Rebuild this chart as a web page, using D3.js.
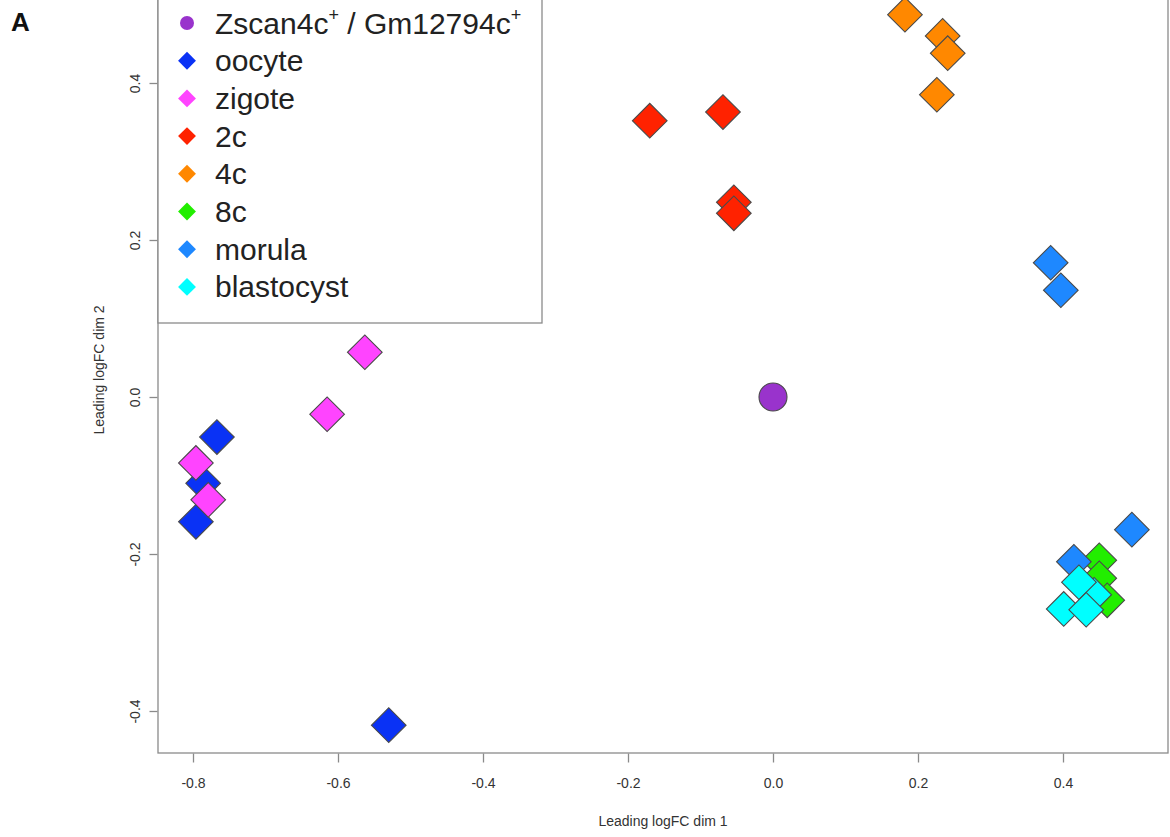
<!DOCTYPE html>
<html>
<head>
<meta charset="utf-8">
<script src="https://cdn.jsdelivr.net/npm/d3@7"></script>
<style>
  body { margin: 0; background: #fff; }
  text { font-family: "Liberation Sans", Arial, sans-serif; }
</style>
</head>
<body>
<div id="chart"></div>
<script>
// groups, in legend / drawing order
var groups = ["oocyte", "zigote", "2c", "4c", "8c", "morula", "blastocyst"];
var groupColors = ["#0a32f5", "#ff44ff", "#ff2200", "#ff8800", "#22ee00", "#1e88ff", "#00ffff"];

// leading logFC dim 1 / dim 2 per group
var oocyteX = [-0.767, -0.786, -0.796, -0.530];
var oocyteY = [-0.051, -0.110, -0.159, -0.418];
var zigoteX = [-0.796, -0.779, -0.615, -0.563];
var zigoteY = [-0.084, -0.131, -0.022, 0.057];
var c2X = [-0.170, -0.069, -0.054, -0.054];
var c2Y = [0.352, 0.363, 0.248, 0.234];
var c4X = [0.182, 0.234, 0.241, 0.226];
var c4Y = [0.487, 0.460, 0.438, 0.385];
var c8X = [0.450, 0.450, 0.461];
var c8Y = [-0.208, -0.231, -0.259];
var morulaX = [0.383, 0.397, 0.495, 0.415];
var morulaY = [0.171, 0.136, -0.169, -0.210];
var blastX = [0.443, 0.422, 0.401, 0.432];
var blastY = [-0.252, -0.236, -0.270, -0.271];

var zscanX = [0.0];
var zscanY = [0.0];

var xTicks = [-0.8, -0.6, -0.4, -0.2, 0.0, 0.2, 0.4];
var yTicks = [-0.4, -0.2, 0.0, 0.2, 0.4];

var groupX = [oocyteX, zigoteX, c2X, c4X, c8X, morulaX, blastX];
var groupY = [oocyteY, zigoteY, c2Y, c4Y, c8Y, morulaY, blastY];

var points = [];
groups.forEach(function(g, i) {
    groupX[i].forEach(function(v, j) {
        points.push({group: g, color: groupColors[i], x: v, y: groupY[i][j]});
    });
});

var width = 1170, height = 837;
var frame = {left: 158, right: 1168, top: -13, bottom: 753};
var fmt = function(d) { return d3.format(".1f")(d).replace("−", "-"); };
var axisFont = "'Liberation Sans Narrow', 'Liberation Sans', Arial, sans-serif";

var svg = d3.select("#chart")
    .append("svg")
    .attr("width", width)
    .attr("height", height);

var x = d3.scaleLinear().domain([-0.8, 0.4]).range([193, 1063]);
var y = d3.scaleLinear().domain([-0.4, 0.4]).range([711, 83]);

// plot frame
svg.append("rect")
    .attr("x", frame.left)
    .attr("y", frame.top)
    .attr("width", frame.right - frame.left)
    .attr("height", frame.bottom - frame.top)
    .attr("fill", "none")
    .attr("stroke", "#8a8a8a")
    .attr("stroke-width", 1.3);

// axes
var xAxis = svg.append("g")
    .attr("transform", "translate(0," + (frame.bottom + 0.5) + ")")
    .call(d3.axisBottom(x).tickValues(xTicks).tickFormat(fmt).tickSize(9).tickPadding(16));
var yAxis = svg.append("g")
    .attr("transform", "translate(" + (frame.left - 0.5) + ",0)")
    .call(d3.axisLeft(y).tickValues(yTicks).tickFormat(fmt).tickSize(8));

[xAxis, yAxis].forEach(function(a) {
    a.select(".domain").remove();
    a.selectAll(".tick line").attr("stroke", "#8a8a8a").attr("stroke-width", 1.3);
    a.selectAll(".tick text")
        .attr("fill", "#333")
        .style("font-size", "14px")
        .style("font-family", axisFont);
});
// R-style rotated y tick labels
yAxis.selectAll(".tick text")
    .attr("x", null)
    .attr("dy", null)
    .attr("transform", "translate(-22,0) rotate(-90)")
    .attr("y", 0)
    .attr("dy", "0.35em")
    .style("text-anchor", "middle");

// axis titles
svg.append("text")
    .attr("x", (frame.left + frame.right) / 2)
    .attr("y", 826)
    .style("text-anchor", "middle")
    .style("font-size", "14px")
    .style("font-family", axisFont)
    .attr("fill", "#333")
    .text("Leading logFC dim 1");
svg.append("text")
    .attr("transform", "translate(104," + ((frame.top + frame.bottom) / 2) + ") rotate(-90)")
    .style("text-anchor", "middle")
    .style("font-size", "14px")
    .style("font-family", axisFont)
    .attr("fill", "#333")
    .text("Leading logFC dim 2");

// panel letter
svg.append("text")
    .attr("x", 11)
    .attr("y", 31)
    .style("font-size", "26px")
    .style("font-weight", "bold")
    .attr("fill", "#111")
    .text("A");

// points
var diamond = d3.symbol().type(d3.symbolSquare).size(600);
svg.append("g")
    .selectAll("path")
    .data(points)
    .enter()
    .append("path")
    .attr("d", diamond)
    .attr("transform", function(d) {
        return "translate(" + x(d.x) + "," + y(d.y) + ") rotate(45)";
    })
    .attr("fill", function(d) { return d.color; })
    .attr("stroke", "#4a4a4a")
    .attr("stroke-width", 1.1);

svg.append("g")
    .selectAll("circle")
    .data(zscanX)
    .enter()
    .append("circle")
    .attr("cx", function(d) { return x(d); })
    .attr("cy", function(d, i) { return y(zscanY[i]); })
    .attr("r", 14)
    .attr("fill", "#9933cc")
    .attr("stroke", "#4a4a4a")
    .attr("stroke-width", 1.1);

// legend
var legend = svg.append("g");
legend.append("rect")
    .attr("x", frame.left)
    .attr("y", -20)
    .attr("width", 542 - frame.left)
    .attr("height", 323 + 20)
    .attr("fill", "#fff")
    .attr("stroke", "#8a8a8a")
    .attr("stroke-width", 1.3);

var rowY = function(i) { return 23 + i * 37.7; };

legend.append("circle")
    .attr("cx", 187)
    .attr("cy", rowY(0))
    .attr("r", 7)
    .attr("fill", "#9933cc");
var t0 = legend.append("text")
    .attr("x", 215)
    .attr("y", rowY(0) + 10.5)
    .style("font-size", "30px")
    .attr("fill", "#222");
t0.append("tspan").text("Zscan4c");
t0.append("tspan").text("+").attr("dy", -13).style("font-size", "18px");
t0.append("tspan").text(" / Gm12794c").attr("dy", 13);
t0.append("tspan").text("+").attr("dy", -13).style("font-size", "18px");

var smallDiamond = d3.symbol().type(d3.symbolSquare).size(160);
groups.forEach(function(g, i) {
    legend.append("path")
        .attr("d", smallDiamond)
        .attr("transform", "translate(187," + rowY(i + 1) + ") rotate(45)")
        .attr("fill", groupColors[i]);
    legend.append("text")
        .attr("x", 215)
        .attr("y", rowY(i + 1) + 10.5)
        .style("font-size", "30px")
        .attr("fill", "#222")
        .text(g);
});
</script>
</body>
</html>
